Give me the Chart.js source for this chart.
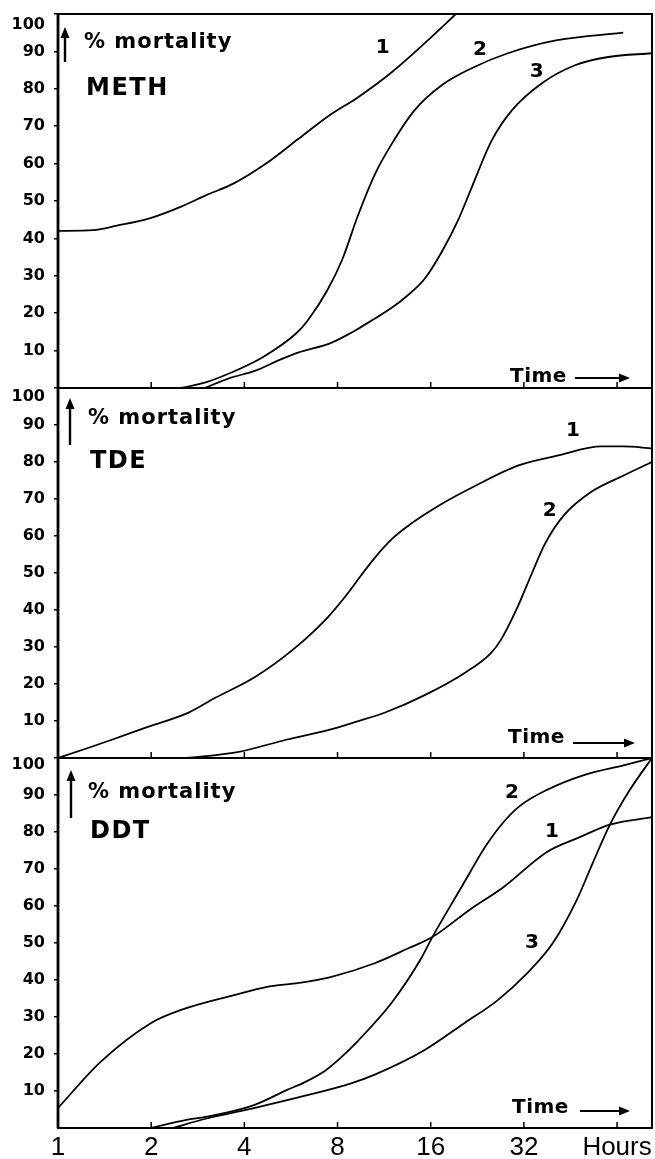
<!DOCTYPE html>
<html>
<head>
<meta charset="utf-8">
<script src="https://cdn.jsdelivr.net/npm/chart.js@4.4.0/dist/chart.umd.min.js"></script>
<style>
html,body{margin:0;padding:0;background:#fff;}
body{width:655px;height:1159px;position:relative;overflow:hidden;}
canvas{position:absolute;left:0;}
</style>
</head>
<body>
<canvas id="c1" width="655" height="392" style="top:0px"></canvas>
<canvas id="c2" width="655" height="384" style="top:378px"></canvas>
<canvas id="c3" width="655" height="411" style="top:748px"></canvas>
<script>
// ---- data (hours, % mortality) ----
const xTicks = [1, 2, 4, 8, 16, 32, 64];
const xTickLabels = ['1', '2', '4', '8', '16', '32', 'Hours'];
const yTicks = [10, 20, 30, 40, 50, 60, 70, 80, 90, 100];
const panelNames = ['METH', 'TDE', 'DDT'];
const seriesNames = ['1', '2', '3'];

const meth1 = [[1,42],[1.3,42.2],[1.55,43.4],[2,45.5],[2.5,48.5],[3,51.5],[3.7,54.7],[4.7,60],[6,66.7],[7.5,72.8],[9.3,77.7],[12,84.5],[15.3,92.2],[19.3,100]];
const meth2 = [[2.5,0],[3,1.5],[3.6,4],[4.6,8.3],[5.9,14.7],[6.4,18],[7.4,26],[8.3,34.5],[9.3,46],[10.6,57.4],[12,65.4],[14.2,74.3],[17.4,81],[21.7,85.5],[28.4,89.5],[41,93],[67,95]];
const meth3 = [[2.98,0],[3.6,2.7],[4.3,4.5],[5.2,7.5],[6,9.5],[7.6,12],[8.6,14.2],[9.3,15.8],[12,21.5],[13.5,24.8],[15.3,29.2],[17.4,36.5],[19.6,44.8],[21.7,53.6],[25.2,66.2],[29.3,74.3],[36.6,81.5],[46.8,86.3],[60,88.5],[83,89.5]];

const tde1 = [[1,0],[1.25,2.7],[1.5,5],[1.95,8.4],[2.63,12.2],[3.21,16.2],[4.33,21.9],[5.82,29.7],[7.45,38.1],[8.65,44.6],[9.5,49.2],[10.6,54.3],[12,59.2],[13.5,62.7],[17.4,68.7],[22,73.3],[30.6,79],[41,81.7],[57,84.2],[67,84.2],[83,83.7]];
const tde2 = [[2.6,0],[3.8,1.6],[5.5,5],[7.5,7.6],[9.1,9.7],[11.4,12.3],[15.3,17],[20.6,23],[25,28.3],[27,32],[30.6,41],[34,50],[37.5,58],[43,65.5],[53,72],[67,76.3],[83,80]];

const ddt1 = [[1,5.4],[1.37,17.8],[2,28.4],[2.5,31.9],[3.7,35.9],[4.7,38.1],[6,39.2],[7.6,40.8],[10.6,44.6],[13.5,48.5],[16.2,51.6],[21.4,59],[27.4,65],[38,74.6],[48.5,78.6],[60.7,82],[83,84]];
const ddt2 = [[2,0],[2.6,2.2],[3,3],[4.3,6.2],[5.5,10.3],[6.2,12.2],[7.3,15.5],[8.2,19],[9.3,23.5],[12,34],[14.8,45.4],[16.2,51.6],[19.6,63.5],[21.4,69],[24,76],[27.4,82.5],[31,87],[38,91.4],[50,95.4],[67.6,98.1],[83,100]];
const ddt3 = [[2.35,0],[3,2.5],[4.3,5.4],[6.2,8.6],[8.8,12],[10.6,14.5],[15.3,21.1],[20.6,28.4],[26.3,34.5],[32.5,41.5],[39.7,50],[47.4,61.6],[53.4,71.6],[60.7,82],[70.4,91.4],[83,100]];

// curve-label anchors (hours, %)
const methLabelAt = [[11.2,91],[23.1,90.3],[35.2,84.5]];
const tdeLabelAt = [[46.1,88.3],[38.8,66.8]];
const ddtLabelAt = [[39.4,80],[29.3,90.5],[34,50]];

const X_MAX = 83;

// ---- drawing helpers ----
const FONT = '"DejaVu Sans", "Open Sans", sans-serif';

function arrowHead(ctx, x, y, dir, len, half) {
  ctx.beginPath();
  if (dir === 'up') { ctx.moveTo(x, y); ctx.lineTo(x - half, y + len); ctx.lineTo(x + half, y + len); }
  else { ctx.moveTo(x, y); ctx.lineTo(x - len, y - half); ctx.lineTo(x - len, y + half); }
  ctx.closePath(); ctx.fill();
}

const decoPlugin = {
  id: 'deco',
  afterDraw(chart, args, o) {
    const { ctx, chartArea: a, scales } = chart;
    ctx.save();
    ctx.strokeStyle = '#000'; ctx.fillStyle = '#000';
    // frame
    ctx.lineWidth = 2;
    ctx.strokeRect(a.left, a.top, a.right - a.left, a.bottom - a.top);
    ctx.lineWidth = 2.8;
    ctx.beginPath(); ctx.moveTo(a.left, a.top); ctx.lineTo(a.left, a.bottom); ctx.stroke();
    // inward x ticks
    ctx.lineWidth = 1.5;
    xTicks.slice(1).forEach(v => {
      const px = scales.x.getPixelForValue(v);
      ctx.beginPath(); ctx.moveTo(px, a.bottom); ctx.lineTo(px, a.bottom - 6); ctx.stroke();
    });
    // "100" label
    ctx.font = 'bold 16px ' + FONT; ctx.textAlign = 'right'; ctx.textBaseline = 'middle';
    ctx.fillText('100', a.left - 13, a.top + o.hundredDy);
    // vertical arrow
    ctx.lineWidth = 2.4;
    ctx.beginPath(); ctx.moveTo(a.left + o.arrowDx, a.top + o.arrowTop + 8); ctx.lineTo(a.left + o.arrowDx, a.top + o.arrowBottom); ctx.stroke();
    arrowHead(ctx, a.left + o.arrowDx, a.top + o.arrowTop, 'up', 11, 4.5);
    // % mortality
    ctx.textAlign = 'left';
    ctx.letterSpacing = '1px';
    ctx.font = 'bold 21px ' + FONT;
    ctx.fillText('% mortality', o.mortX, a.top + o.mortDy);
    // panel title
    ctx.letterSpacing = '1.5px';
    ctx.font = 'bold 24px ' + FONT;
    ctx.fillText(o.title, o.titleX, a.top + o.titleDy);
    // Time ->
    ctx.letterSpacing = '0.5px';
    ctx.font = 'bold 20px ' + FONT;
    ctx.fillText('Time', o.timeX, a.bottom + o.timeDy);
    ctx.letterSpacing = '0px';
    ctx.lineWidth = 2;
    const ay = a.bottom + o.timeArrowDy;
    ctx.beginPath(); ctx.moveTo(o.timeArrowX1, ay); ctx.lineTo(o.timeArrowX2 - 6, ay); ctx.stroke();
    arrowHead(ctx, o.timeArrowX2, ay, 'right', 11, 4.5);
    // curve labels
    ctx.font = 'bold 20px ' + FONT; ctx.textAlign = 'center';
    o.labels.forEach((p, i) => {
      ctx.fillText(o.labelNames[i], scales.x.getPixelForValue(p[0]), scales.y.getPixelForValue(p[1]));
    });
    ctx.restore();
  }
};

function makePanel(id, series, names, labelAt, padTop, xHeight, showX, deco) {
  const datasets = series.map((s, i) => ({
    label: names[i],
    data: s.map(([x, y]) => ({ x, y })),
    borderColor: '#000',
    borderWidth: 1.8,
    pointRadius: 0,
    fill: false,
    cubicInterpolationMode: 'monotone'
  }));
  return new Chart(document.getElementById(id), {
    type: 'line',
    data: { datasets },
    options: {
      responsive: false,
      animation: false,
      devicePixelRatio: 1,
      layout: { padding: { top: padTop, right: 3, left: 0, bottom: 0 } },
      plugins: {
        legend: { display: false },
        tooltip: { enabled: false },
        deco: Object.assign({ labels: labelAt, labelNames: names }, deco)
      },
      scales: {
        x: {
          type: 'logarithmic',
          min: 1, max: X_MAX,
          bounds: 'data',
          offset: false,
          afterBuildTicks: s => { s.ticks = xTicks.map(v => ({ value: v })); },
          afterFit: s => { s.height = xHeight; s.paddingLeft = 0; s.paddingRight = 0; s.paddingTop = 0; s.paddingBottom = 0; },
          grid: { display: false, drawTicks: false },
          border: { display: false },
          ticks: {
            display: showX,
            autoSkip: false,
            maxRotation: 0,
            minRotation: 0,
            padding: 4,
            color: '#000',
            font: { family: '"Liberation Sans Narrow", "Liberation Sans", sans-serif', size: 26 },
            callback: (v, i) => xTickLabels[i]
          }
        },
        y: {
          type: 'linear',
          min: 0, max: 100,
          afterBuildTicks: s => { s.ticks = yTicks.map(v => ({ value: v })); },
          afterFit: s => { s.width = 58; s.paddingTop = 0; s.paddingBottom = 0; s.paddingLeft = 0; s.paddingRight = 0; },
          grid: { display: true, drawOnChartArea: false, drawTicks: true, tickLength: 4, color: '#000', lineWidth: 1.5 },
          border: { display: false },
          ticks: {
            color: '#000',
            padding: 9,
            font: { family: FONT, size: 16, weight: 'bold' },
            callback: v => (v === 100 ? '' : String(v))
          }
        }
      }
    },
    plugins: [decoPlugin]
  });
}

makePanel('c1', [meth1, meth2, meth3], seriesNames, methLabelAt, 14, 4, false, {
  title: panelNames[0], hundredDy: 11, arrowDx: 7, arrowTop: 13, arrowBottom: 48,
  mortX: 84, mortDy: 29, titleX: 86, titleDy: 75,
  timeX: 510, timeDy: -11, timeArrowX1: 575, timeArrowX2: 630, timeArrowDy: -10
});
makePanel('c2', [tde1, tde2], seriesNames.slice(0, 2), tdeLabelAt, 10, 4, false, {
  title: panelNames[1], hundredDy: 9, arrowDx: 12, arrowTop: 10, arrowBottom: 57,
  mortX: 88, mortDy: 31, titleX: 90, titleDy: 74,
  timeX: 508, timeDy: -20, timeArrowX1: 573, timeArrowX2: 635, timeArrowDy: -15
});
makePanel('c3', [ddt1, ddt2, ddt3], seriesNames, ddtLabelAt, 10, 31, true, {
  title: panelNames[2], hundredDy: 7, arrowDx: 13, arrowTop: 12, arrowBottom: 60,
  mortX: 88, mortDy: 35, titleX: 90, titleDy: 74,
  timeX: 512, timeDy: -20, timeArrowX1: 580, timeArrowX2: 630, timeArrowDy: -17
});
</script>
</body>
</html>
